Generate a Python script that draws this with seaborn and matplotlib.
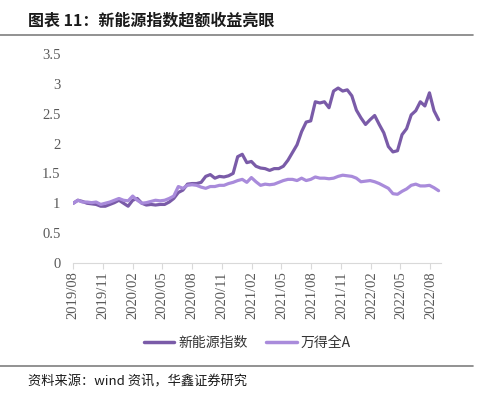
import pandas as pd
import numpy as np
import matplotlib
matplotlib.use("Agg")
import matplotlib.pyplot as plt
import matplotlib.dates as mdates
import seaborn as sns

# data (biweekly)
dates = pd.date_range("2019-08-02", periods=81, freq="14D")
new_energy = [1.00, 1.05, 1.03, 1.00, 0.99, 0.98, 0.95, 0.95, 0.98, 1.01,
              1.05, 1.00, 0.95, 1.05, 1.08, 1.00, 0.97, 0.98, 0.97, 0.98,
              0.98, 1.02, 1.08, 1.18, 1.22, 1.32, 1.33, 1.33, 1.35, 1.45,
              1.48, 1.42, 1.45, 1.44, 1.46, 1.50, 1.78, 1.82, 1.68, 1.70,
              1.62, 1.59, 1.58, 1.55, 1.58, 1.58, 1.62, 1.72, 1.85, 1.98,
              2.20, 2.36, 2.38, 2.70, 2.68, 2.70, 2.60, 2.88, 2.93, 2.88,
              2.90, 2.80, 2.56, 2.43, 2.32, 2.40, 2.47, 2.32, 2.18, 1.95,
              1.86, 1.88, 2.15, 2.25, 2.48, 2.55, 2.70, 2.63, 2.85, 2.55,
              2.40]
wind_a = [1.00, 1.05, 1.02, 1.02, 1.01, 1.02, 0.98, 1.00, 1.02, 1.05,
          1.08, 1.05, 1.04, 1.12, 1.05, 1.00, 1.01, 1.03, 1.05, 1.04,
          1.05, 1.08, 1.12, 1.28, 1.25, 1.30, 1.31, 1.30, 1.27, 1.25,
          1.28, 1.28, 1.30, 1.30, 1.33, 1.35, 1.38, 1.40, 1.35, 1.43,
          1.36, 1.30, 1.32, 1.31, 1.32, 1.35, 1.38, 1.40, 1.40, 1.38,
          1.42, 1.38, 1.40, 1.44, 1.42, 1.42, 1.41, 1.42, 1.45, 1.47,
          1.46, 1.45, 1.42, 1.36, 1.37, 1.38, 1.36, 1.33, 1.29, 1.25,
          1.16, 1.15, 1.20, 1.24, 1.30, 1.32, 1.29, 1.29, 1.30, 1.26,
          1.21]
series_names = ["新能源指数", "万得全A"]
colors = ["#7A5BA8", "#A98BDB"]

df = pd.DataFrame({"date": dates, series_names[0]: new_energy, series_names[1]: wind_a})
long = df.melt(id_vars="date", var_name="series", value_name="value")

sns.set_style("white")
plt.rcParams["font.family"] = ["Noto Sans CJK SC", "DejaVu Sans"]

fig = plt.figure(figsize=(4.85, 3.93), dpi=100)
ax = fig.add_axes([0.1505, 0.331, 0.7585, 0.5315])

sns.lineplot(data=long, x="date", y="value", hue="series", hue_order=series_names,
             palette=colors, linewidth=2.3, ax=ax, legend=False)

ax.set_ylim(0, 3.5)
ax.set_yticks(np.arange(0, 3.51, 0.5))
ax.set_yticklabels(["0", "0.5", "1", "1.5", "2", "2.5", "3", "3.5"])
ax.set_xlim(pd.Timestamp("2019-08-01"), pd.Timestamp("2022-09-02"))
ax.xaxis.set_major_locator(mdates.MonthLocator(bymonth=[2, 5, 8, 11]))
ax.xaxis.set_major_formatter(mdates.DateFormatter("%Y/%m"))
ax.set_xlabel("")
ax.set_ylabel("")

serif = ["Liberation Serif", "DejaVu Serif"]
for lab in ax.get_xticklabels():
    lab.set_rotation(90)
    lab.set_family(serif)
    lab.set_fontsize(10.5)
    lab.set_color("#595959")
for lab in ax.get_yticklabels():
    lab.set_family(serif)
    lab.set_fontsize(10.5)
    lab.set_color("#595959")

for s in ["top", "right", "left"]:
    ax.spines[s].set_visible(False)
ax.spines["bottom"].set_color("#D9D9D9")
ax.tick_params(axis="x", length=4, color="#D9D9D9", pad=2, bottom=True)
ax.tick_params(axis="y", length=0, pad=9)

handles = [plt.Line2D([], [], color=c, linewidth=2.5) for c in colors]
leg = fig.legend(handles, series_names, loc="center", bbox_to_anchor=(0.51, 0.127),
                 ncol=2, frameon=False, fontsize=10, handlelength=2.2,
                 columnspacing=1.3, handletextpad=0.3)
for t in leg.get_texts():
    t.set_color("#333333")

fig.text(0.058, 0.948, "图表 11：新能源指数超额收益亮眼", fontsize=11.5,
         fontweight="bold", color="#1a1a1a", va="center")
fig.add_artist(plt.Line2D([0, 0.975], [0.912, 0.912], color="#7F7F7F", linewidth=1.2))
fig.add_artist(plt.Line2D([0, 0.975], [0.068, 0.068], color="#7F7F7F", linewidth=1.2))
fig.text(0.058, 0.028, "资料来源：wind 资讯，华鑫证券研究", fontsize=9.5,
         color="#1a1a1a", va="center")

fig.savefig("out.png", dpi=100)
